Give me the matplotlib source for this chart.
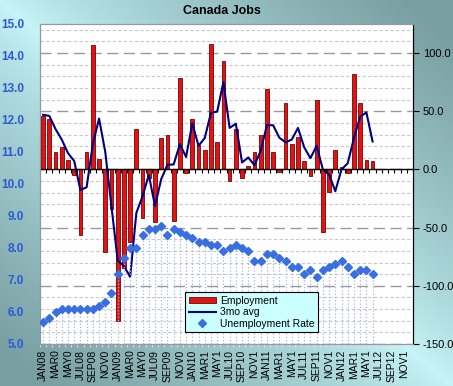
import numpy as np
import matplotlib
matplotlib.use("Agg")
import matplotlib.pyplot as plt
from matplotlib.ticker import MultipleLocator, FormatStrFormatter
from matplotlib.patches import Patch

plt.rcParams['font.family'] = ['Liberation Sans', 'DejaVu Sans']

# monthly change in employment (thousands), Jan 2008 - Jun 2012
employment = [46, 43, 15, 19, 8, -5, -56, 15, 107, 9, -71, -34,
              -130, -85, -62, 35, -42, -7, -45, 27, 30, -44, 79, -3,
              43, 21, 17, 108, 24, 93, -10, 35, -7, 3, 15, 30,
              69, 15, -2, 57, 22, 28, 7, -6, 60, -54, -19, 17,
              2, -3, 82, 57, 8, 7]
# 3 month average
avg3 = [47, 46, 34.7, 25.7, 14, 7.3, -17.7, -15.3, 22, 43.7, 15, -32,
        -78.3, -83, -92.3, -37.3, -23, -4.7, -31.3, -8.3, 4, 4.3, 21.7, 10.7,
        39.7, 20.3, 27, 48.7, 49.7, 75, 35.7, 39.3, 6, 10.3, 3.7, 16,
        38, 38, 27.3, 23.3, 25.7, 35.7, 19, 9.7, 20.3, 0, -4.3, -18.7,
        0, 5.3, 27, 45.3, 49, 24]
# unemployment rate (%)
unemp = [5.7, 5.8, 6.0, 6.1, 6.1, 6.1, 6.1, 6.1, 6.1, 6.2, 6.3, 6.6,
         7.2, 7.7, 8.0, 8.0, 8.4, 8.6, 8.6, 8.7, 8.4, 8.6, 8.5, 8.4,
         8.3, 8.2, 8.2, 8.1, 8.1, 7.9, 8.0, 8.1, 8.0, 7.9, 7.6, 7.6,
         7.8, 7.8, 7.7, 7.6, 7.4, 7.4, 7.2, 7.3, 7.1, 7.3, 7.4, 7.5,
         7.6, 7.4, 7.2, 7.3, 7.3, 7.2]
n_months = 60
xlabels = ["JAN08", "MAR0", "MAY0", "JUL08", "SEP08", "NOV0",
           "JAN09", "MAR0", "MAY0", "JUL09", "SEP09", "NOV0",
           "JAN10", "MAR1", "MAY1", "JUL10", "SEP10", "NOV1",
           "JAN11", "MAR1", "MAY1", "JUL11", "SEP11", "NOV1",
           "JAN12", "MAR1", "MAY1", "JUL12", "SEP12", "NOV1"]

W, H = 453, 386
fig = plt.figure(figsize=(W / 100, H / 100), dpi=100)

# background gradient
bg = fig.add_axes([0, 0, 1, 1], zorder=-10)
gx, gy = np.meshgrid(np.linspace(0, 1, 200), np.linspace(0, 1, 200))
t = np.clip(np.abs(gx - gy) * 1.1, 0, 1) ** 0.8
light = np.array([0.78, 0.96, 0.97])
dark = np.array([0.47, 0.62, 0.63])
img = light[None, None, :] * (1 - t[..., None]) + dark[None, None, :] * t[..., None]
bg.imshow(img, aspect='auto', extent=[0, 1, 0, 1], origin='upper')
bg.axis('off')

rect = [40 / W, 1 - 344 / H, 373 / W, 320 / H]
ax2 = fig.add_axes(rect)           # employment, right scale
ax = ax2.twinx()                   # unemployment, left scale
ax.yaxis.tick_left()
ax2.yaxis.tick_right()
ax.set_zorder(ax2.get_zorder() + 1)
ax.patch.set_visible(False)
ax2.set_facecolor('white')

x = np.arange(len(employment))

# employment bars + 3mo avg
ax2.set_ylim(-150, 125)
ax2.yaxis.set_major_locator(MultipleLocator(50))
ax2.yaxis.set_minor_locator(MultipleLocator(10))
ax2.yaxis.set_major_formatter(FormatStrFormatter('%.1f'))
ax2.grid(which='minor', axis='y', color='#c8c8c8', linestyle=(0, (3, 2)), lw=0.8)
ax2.grid(which='major', axis='y', color='#999999', linestyle=(0, (8, 4)), lw=1.0)
ax2.set_axisbelow(True)
ax2.bar(x, employment, width=0.6, color='#e01414', edgecolor='#7a0000',
        linewidth=0.6, zorder=3)
avg_line, = ax2.plot(x, avg3, color='#000080', lw=1.5, zorder=4)
ax2.axhline(0, color='black', lw=1, zorder=5)
ax2.vlines(np.arange(n_months + 1) - 0.5, -3, 0, color='black', lw=0.8, zorder=5)
ax2.tick_params(axis='y', which='major', right=True, left=False, length=4,
                labelsize=8, labelcolor='black', pad=3)
ax2.tick_params(axis='y', which='minor', length=0)

# unemployment rate diamonds with drop lines
ax.set_ylim(5, 15)
ax.yaxis.set_major_locator(MultipleLocator(1))
ax.yaxis.set_major_formatter(FormatStrFormatter('%.1f'))
ax.vlines(x, 5, unemp, colors='#9fb6e6', linestyles=':', lw=0.9, zorder=2)
diam, = ax.plot(x, unemp, linestyle='none', marker='D', markersize=3.6,
                color='#3a6fe0', markeredgecolor='#3a6fe0', zorder=6)
ax.tick_params(axis='y', left=False, right=False, labelleft=True, labelright=False,
               labelsize=8.5, labelcolor='#2a5ad8', pad=8)
for lab in ax.get_yticklabels():
    lab.set_fontweight('bold')

# category axis
ax2.set_xlim(-0.5, n_months - 0.5)
ax2.set_xticks(np.arange(0, n_months, 2))
ax2.set_xticklabels(xlabels, rotation=90, fontsize=7.5, va='top', ha='center')
ax2.set_xticks(np.arange(n_months + 1) - 0.5, minor=True)
ax2.tick_params(axis='x', which='major', length=0, pad=4)
ax2.tick_params(axis='x', which='minor', length=2, color='#e8e8e8', direction='out')
ax.tick_params(axis='x', bottom=False, labelbottom=False)

for a in (ax, ax2):
    a.spines['left'].set_color('#8899aa')
    a.spines['top'].set_color('#999999')
    a.spines['bottom'].set_color('#999999')
    a.spines['right'].set_color('black')

fig.text(0.49, 1 - 11 / H, 'Canada Jobs', ha='center', va='center',
         fontsize=9, fontweight='bold')

handles = [Patch(facecolor='#e01414', edgecolor='#7a0000', lw=0.6), avg_line, diam]
leg = ax.legend(handles, ['Employment', '3mo avg', 'Unemployment Rate'],
                loc='upper left', bbox_to_anchor=(185 / W, 1 - 292 / H),
                bbox_transform=fig.transFigure, borderaxespad=0,
                fontsize=7.5, handlelength=2.6, handleheight=0.6,
                labelspacing=0.15, borderpad=0.35, handletextpad=0.4,
                fancybox=False, framealpha=1, facecolor='#ccffff', edgecolor='black')
leg.get_frame().set_linewidth(0.8)
leg.set_zorder(20)

fig.savefig('out.png', dpi=100)
